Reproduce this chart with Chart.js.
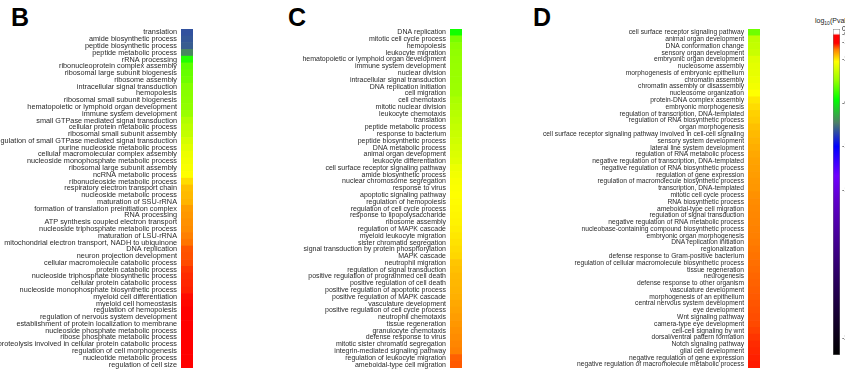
<!DOCTYPE html>
<html>
<head>
<meta charset="utf-8">
<script src="https://cdn.jsdelivr.net/npm/chart.js@4.4.1/dist/chart.umd.min.js"></script>
<style>
  html, body { margin: 0; padding: 0; background: #fff; }
  body { position: relative; width: 845px; height: 375px; overflow: hidden; font-family: "Liberation Sans", Arial, sans-serif; }
  .box { position: absolute; }
  .letter { position: absolute; font-weight: bold; font-size: 25px; color: #000; line-height: 1; }
  .ltitle { position: absolute; left: 815px; top: 17px; font-size: 7px; color: #222; white-space: nowrap; }
  .ltitle sub { font-size: 5px; }
</style>
</head>
<body>
<div class="letter" style="left:11px;top:5px">B</div>
<div class="letter" style="left:288px;top:5px">C</div>
<div class="letter" style="left:533px;top:5px">D</div>
<div class="ltitle">log<sub>10</sub>(Pvalue)</div>

<canvas id="chartB" class="box" style="left:0;top:25px" width="200" height="348"></canvas>
<canvas id="chartC" class="box" style="left:270px;top:25px" width="200" height="348"></canvas>
<canvas id="chartD" class="box" style="left:520px;top:25px" width="250" height="348"></canvas>
<canvas id="legend" class="box" style="left:826px;top:20px" width="60" height="345"></canvas>

<script>
// ---- data: GO terms and log10(P) per panel ----
const termsB = [
  "translation", "amide biosynthetic process", "peptide biosynthetic process", "peptide metabolic process",
  "rRNA processing", "ribonucleoprotein complex assembly", "ribosomal large subunit biogenesis", "ribosome assembly",
  "intracellular signal transduction", "hemopoiesis", "ribosomal small subunit biogenesis",
  "hematopoietic or lymphoid organ development", "immune system development", "small GTPase mediated signal transduction",
  "cellular protein metabolic process", "ribosomal small subunit assembly",
  "regulation of small GTPase mediated signal transduction", "purine nucleoside metabolic process",
  "cellular macromolecular complex assembly", "nucleoside monophosphate metabolic process",
  "ribosomal large subunit assembly", "ncRNA metabolic process", "ribonucleoside metabolic process",
  "respiratory electron transport chain", "nucleoside metabolic process", "maturation of SSU-rRNA",
  "formation of translation preinitiation complex", "RNA processing", "ATP synthesis coupled electron transport",
  "nucleoside triphosphate metabolic process", "maturation of LSU-rRNA",
  "mitochondrial electron transport, NADH to ubiquinone", "DNA replication", "neuron projection development",
  "cellular macromolecule catabolic process", "protein catabolic process",
  "nucleoside triphosphate biosynthetic process", "cellular protein catabolic process",
  "nucleoside monophosphate biosynthetic process", "myeloid cell differentiation", "myeloid cell homeostasis",
  "regulation of hemopoiesis", "regulation of nervous system development",
  "establishment of protein localization to membrane", "nucleoside phosphate metabolic process",
  "ribose phosphate metabolic process", "proteolysis involved in cellular protein catabolic process",
  "regulation of cell morphogenesis", "nucleotide metabolic process", "regulation of cell size"
];
const logPB = [
  -9.4, -9.3, -9.2, -8.5, -6.1, -5.4, -5.3, -5.2, -4.95, -4.9,
  -4.85, -4.8, -4.7, -4.3, -4.1, -4.0, -3.7, -3.5, -3.3, -3.2,
  -3.1, -3.0, -2.7, -2.45, -2.4, -2.35, -2.15, -2.1, -2.05, -2.0,
  -1.9, -1.85, -1.7, -1.68, -1.65, -1.55, -1.5, -1.48, -1.45, -1.35,
  -1.33, -1.3, -1.3, -1.3, -1.3, -1.3, -1.3, -1.3, -1.3, -1.3
];

const termsC = [
  "DNA replication", "mitotic cell cycle process", "hemopoiesis", "leukocyte migration",
  "hematopoietic or lymphoid organ development", "immune system development", "nuclear division",
  "intracellular signal transduction", "DNA replication initiation", "cell migration", "cell chemotaxis",
  "mitotic nuclear division", "leukocyte chemotaxis", "translation", "peptide metabolic process",
  "response to bacterium", "peptide biosynthetic process", "DNA metabolic process", "animal organ development",
  "leukocyte differentiation", "cell surface receptor signaling pathway", "amide biosynthetic process",
  "nuclear chromosome segregation", "response to virus", "apoptotic signaling pathway", "regulation of hemopoiesis",
  "regulation of cell cycle process", "response to lipopolysaccharide", "ribosome assembly",
  "regulation of MAPK cascade", "myeloid leukocyte migration", "sister chromatid segregation",
  "signal transduction by protein phosphorylation", "MAPK cascade", "neutrophil migration",
  "regulation of signal transduction", "positive regulation of programmed cell death",
  "positive regulation of cell death", "positive regulation of apoptotic process",
  "positive regulation of MAPK cascade", "vasculature development", "positive regulation of cell cycle process",
  "neutrophil chemotaxis", "tissue regeneration", "granulocyte chemotaxis", "defense response to virus",
  "mitotic sister chromatid segregation", "integrin-mediated signaling pathway",
  "regulation of leukocyte migration", "ameboidal-type cell migration"
];
const logPC = [
  -6.3, -5.1, -4.85, -4.8, -4.75, -4.72, -4.7, -4.68, -4.65, -4.6,
  -4.4, -4.3, -4.2, -4.1, -4.0, -3.9, -3.8, -3.7, -3.6, -3.5,
  -3.3, -3.2, -3.1, -3.05, -3.0, -2.97, -2.95, -2.92, -2.9, -2.85,
  -2.8, -2.75, -2.7, -2.65, -2.5, -2.45, -2.4, -2.38, -2.35, -2.32,
  -2.25, -2.2, -2.15, -2.1, -2.05, -2.0, -1.95, -1.9, -1.75, -1.72
];

const termsD = [
  "cell surface receptor signaling pathway", "animal organ development", "DNA conformation change",
  "sensory organ development", "embryonic organ development", "nucleosome assembly",
  "morphogenesis of embryonic epithelium", "chromatin assembly", "chromatin assembly or disassembly",
  "nucleosome organization", "protein-DNA complex assembly", "embryonic morphogenesis",
  "regulation of transcription, DNA-templated", "regulation of RNA biosynthetic process", "organ morphogenesis",
  "cell surface receptor signaling pathway involved in cell-cell signaling", "sensory system development",
  "lateral line system development", "regulation of RNA metabolic process",
  "negative regulation of transcription, DNA-templated", "negative regulation of RNA biosynthetic process",
  "regulation of gene expression", "regulation of macromolecule biosynthetic process",
  "transcription, DNA-templated", "mitotic cell cycle process", "RNA biosynthetic process",
  "ameboidal-type cell migration", "regulation of signal transduction",
  "negative regulation of RNA metabolic process", "nucleobase-containing compound biosynthetic process",
  "embryonic organ morphogenesis", "DNA replication initiation", "regionalization",
  "defense response to Gram-positive bacterium", "regulation of cellular macromolecule biosynthetic process",
  "tissue regeneration", "neurogenesis", "defense response to other organism", "vasculature development",
  "morphogenesis of an epithelium", "central nervous system development", "eye development",
  "Wnt signaling pathway", "camera-type eye development", "cell-cell signaling by wnt",
  "dorsal/ventral pattern formation", "Notch signaling pathway", "glial cell development",
  "negative regulation of gene expression", "negative regulation of macromolecule metabolic process"
];
const logPD = [
  -5.2, -4.1, -4.0, -3.9, -3.55, -3.45, -3.4, -3.3, -3.2, -3.0,
  -2.8, -2.7, -2.6, -2.55, -2.45, -2.4, -2.35, -2.3, -2.25, -2.2,
  -2.18, -2.15, -2.12, -2.1, -2.05, -2.0, -1.98, -1.96, -1.94, -1.92,
  -1.9, -1.88, -1.86, -1.84, -1.82, -1.8, -1.78, -1.76, -1.74, -1.72,
  -1.7, -1.68, -1.66, -1.64, -1.6, -1.55, -1.5, -1.48, -1.45, -1.42
];

// colour bar range and tick positions (log10 P)
const legendMin = -30;
const legendTicks = [0, -0.5, -1.2, -2.8, -6.8, -10.8, -14.8, -28.4];

// colormap stops
const cmapValues = [0, -0.4, -0.6, -1.3, -1.9, -3.0, -4.7, -6.5, -8.6, -10.8, -13.5, -15.7, -23, -30];
const cmapColors = ["#ffffff", "#ffffff", "#ff0000", "#ff0000", "#ff8000", "#ffff00", "#99ff00",
  "#00ff00", "#4d8066", "#0000ff", "#7000ff", "#6000cc", "#2a0060", "#000000"];

// ------------------- helpers -------------------

function hexToRgb(h) {
  return [parseInt(h.slice(1, 3), 16), parseInt(h.slice(3, 5), 16), parseInt(h.slice(5, 7), 16)];
}

function pColor(v) {
  for (let i = 0; i < cmapValues.length - 1; i++) {
    const a = cmapValues[i], b = cmapValues[i + 1];
    if (v <= a && v >= b) {
      const t = a === b ? 0 : (a - v) / (a - b);
      const c1 = hexToRgb(cmapColors[i]), c2 = hexToRgb(cmapColors[i + 1]);
      const c = c1.map((x, k) => Math.round(x + (c2[k] - x) * t));
      return `rgb(${c[0]}, ${c[1]}, ${c[2]})`;
    }
  }
  return cmapColors[cmapColors.length - 1];
}

function renderStrip(id, terms, logP, axisWidth, rightPad, fontSize) {
  new Chart(document.getElementById(id), {
    type: "bar",
    data: {
      labels: terms,
      datasets: [{
        data: logP.map(() => 1),
        backgroundColor: logP.map(pColor),
        borderWidth: 0,
        barPercentage: 1,
        categoryPercentage: 1,
      }],
    },
    options: {
      indexAxis: "y",
      responsive: false,
      animation: false,
      layout: { autoPadding: false, padding: { top: 4, bottom: 5, right: rightPad, left: 0 } },
      plugins: { legend: { display: false }, tooltip: { enabled: false } },
      scales: {
        x: { display: false, min: 0, max: 1 },
        y: {
          grid: { display: false, drawTicks: false },
          border: { display: false },
          ticks: {
            autoSkip: false,
            color: "#2a2a2a",
            padding: 4,
            font: { family: "Liberation Sans", size: fontSize },
          },
          afterFit: (s) => {
            s.width = axisWidth;
            // labels sit inside their category band, no extra top/bottom room needed
            s.paddingTop = 0;
            s.paddingBottom = 0;
          },
        },
      },
    },
  });
}

function renderLegend() {
  new Chart(document.getElementById("legend"), {
    type: "bar",
    data: {
      labels: [""],
      datasets: [{
        data: [[legendMin, 0]],
        backgroundColor: (ctx) => {
          const chart = ctx.chart;
          const { chartArea, scales } = chart;
          if (!chartArea) return "#fff";
          const g = chart.ctx.createLinearGradient(0, scales.y.getPixelForValue(0), 0, scales.y.getPixelForValue(legendMin));
          cmapValues.forEach((v, i) => g.addColorStop(v / legendMin, cmapColors[i]));
          return g;
        },
        borderColor: "#777",
        borderWidth: 0.8,
        borderSkipped: false,
        barPercentage: 1,
        categoryPercentage: 1,
      }],
    },
    options: {
      responsive: false,
      animation: false,
      layout: { autoPadding: false, padding: { top: 9, bottom: 10, left: 7, right: 0 } },
      plugins: { legend: { display: false }, tooltip: { enabled: false } },
      scales: {
        x: { display: false },
        y: {
          position: "right",
          min: legendMin,
          max: 0,
          grid: { display: false, drawTicks: false },
          border: { display: false },
          afterBuildTicks: (axis) => { axis.ticks = legendTicks.map((v) => ({ value: v })); },
          afterFit: (s) => { s.width = 46; },
          ticks: {
            color: "#222",
            padding: 2,
            font: { family: "Liberation Sans", size: 7 },
            callback: (v) => (v === 0 ? "0" : String(v)),
          },
        },
      },
    },
  });
}

renderStrip("chartB", termsB, logPB, 181, 7, 7.3);
renderStrip("chartC", termsC, logPC, 180, 8, 7);
renderStrip("chartD", termsD, logPD, 228, 10, 6.7);
renderLegend();
</script>
</body>
</html>
